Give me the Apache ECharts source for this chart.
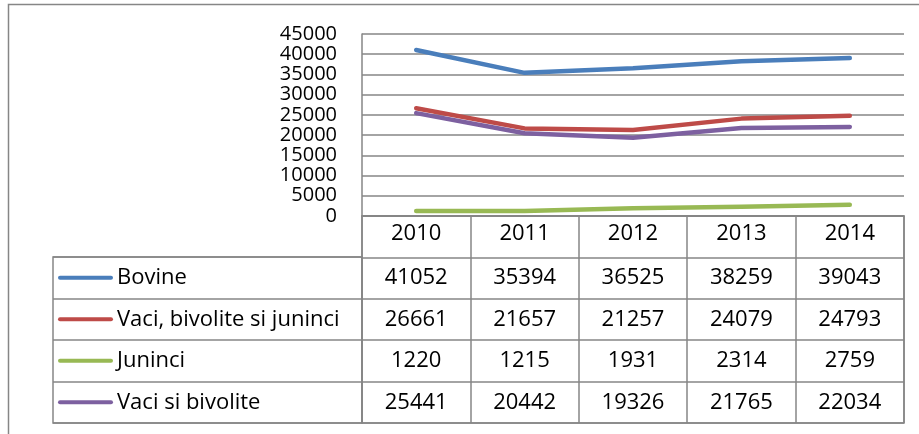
<!DOCTYPE html>
<html>
<head>
<meta charset="utf-8">
<script src="https://cdn.jsdelivr.net/npm/echarts@6/dist/echarts.min.js"></script>
<style>
  html, body { margin: 0; padding: 0; background: #fff; }
  #chart { width: 919px; height: 434px; }
</style>
</head>
<body>
<div id="chart"></div>
<script>
// date
const years = ['2010', '2011', '2012', '2013', '2014'];
const seriesNames = ['Bovine', 'Vaci, bivolite si juninci', 'Juninci', 'Vaci si bivolite'];
const bovine = [41052, 35394, 36525, 38259, 39043];
const vaciBivoliteJuninci = [26661, 21657, 21257, 24079, 24793];
const juninci = [1220, 1215, 1931, 2314, 2759];
const vaciBivolite = [25441, 20442, 19326, 21765, 22034];
const yTicks = [0, 5000, 10000, 15000, 20000, 25000, 30000, 35000, 40000, 45000];

const allValues = [bovine, vaciBivoliteJuninci, juninci, vaciBivolite];
const colors = ['#4a7ebb', '#be4b48', '#98b954', '#7d60a0'];
const gridGray = '#868686';
const font = 'Open Sans';
const tableFont = 22;

const chart = echarts.init(document.getElementById('chart'));

// celule tabel: [coloana, rand, valoare]
const cells = [];
allValues.forEach((row, r) => {
  row.forEach((v, c) => cells.push([c, r, v]));
});

const rich = { t: { fontSize: tableFont, fontFamily: font, color: '#000', padding: [0, 0, 0, 4] } };
colors.forEach((c, i) => {
  rich['l' + i] = { width: 55, height: 4, backgroundColor: c, borderRadius: 2 };
});

const lineSeries = seriesNames.map((name, i) => ({
  name: name,
  type: 'line',
  xAxisIndex: 0,
  yAxisIndex: 0,
  data: allValues[i],
  symbol: 'none',
  lineStyle: { width: 4.5, color: colors[i], cap: 'round', join: 'round' },
  itemStyle: { color: colors[i] },
  animation: false
}));

const option = {
  animation: false,
  textStyle: { fontFamily: font },
  graphic: [{
    type: 'rect',
    shape: { x: 8.5, y: 4.5, width: 1000, height: 600 },
    style: { fill: 'none', stroke: gridGray, lineWidth: 1.5 },
    silent: true
  }],
  grid: [
    // zona graficului
    { left: 362, right: 15, top: 34, height: 182 },
    // valorile din tabel
    { left: 362, right: 15, top: 216, bottom: 11, show: true, borderColor: gridGray, borderWidth: 1.5 },
    // coloana cu legenda
    { left: 53, width: 309, top: 257, bottom: 11, show: true, borderColor: gridGray, borderWidth: 1.5 }
  ],
  xAxis: [
    {
      gridIndex: 0, type: 'category', data: years, boundaryGap: true,
      axisLine: { show: true, lineStyle: { color: gridGray, width: 1.5 } },
      axisTick: { show: false },
      axisLabel: { color: '#000', fontSize: tableFont, margin: 7 }
    },
    {
      gridIndex: 1, type: 'category', data: years, boundaryGap: true,
      axisLine: { show: false }, axisTick: { show: false }, axisLabel: { show: false },
      splitLine: { show: true, interval: 0, lineStyle: { color: gridGray, width: 1.5 } }
    },
    {
      gridIndex: 2, type: 'value', show: false
    }
  ],
  yAxis: [
    {
      gridIndex: 0, type: 'value', min: 0, max: 45000, interval: 5000,
      axisLine: { show: true, lineStyle: { color: gridGray, width: 1.5 } },
      axisTick: { show: false },
      axisLabel: {
        color: '#000', fontSize: 20, margin: 25,
        formatter: v => (yTicks.indexOf(v) >= 0 ? String(v) : '')
      },
      splitLine: { show: true, showMinLine: true, showMaxLine: true, lineStyle: { color: gridGray, width: 1.5 } }
    },
    {
      gridIndex: 1, type: 'category', inverse: true, data: ['an'].concat(seriesNames),
      axisLine: { show: false }, axisTick: { show: false }, axisLabel: { show: false },
      splitLine: { show: true, interval: 0, lineStyle: { color: gridGray, width: 1.5 } }
    },
    {
      gridIndex: 2, type: 'category', inverse: true, data: seriesNames,
      axisLine: { show: false }, axisTick: { show: false },
      splitLine: { show: true, interval: 0, lineStyle: { color: gridGray, width: 1.5 } },
      axisLabel: {
        inside: true, margin: 5, interval: 0,
        formatter: (v, i) => '{l' + i + '|}{t|' + v + '}',
        rich: rich
      }
    }
  ],
  series: lineSeries.concat([{
    type: 'custom',
    xAxisIndex: 1,
    yAxisIndex: 1,
    data: cells,
    silent: true,
    renderItem: (params, api) => {
      const p = api.coord([api.value(0), api.value(1) + 1]);
      return {
        type: 'text',
        x: p[0],
        y: p[1],
        style: {
          text: String(api.value(2)),
          fontSize: tableFont,
          fontFamily: font,
          fill: '#000',
          align: 'center',
          verticalAlign: 'middle'
        }
      };
    }
  }])
};

chart.setOption(option);
</script>
</body>
</html>
